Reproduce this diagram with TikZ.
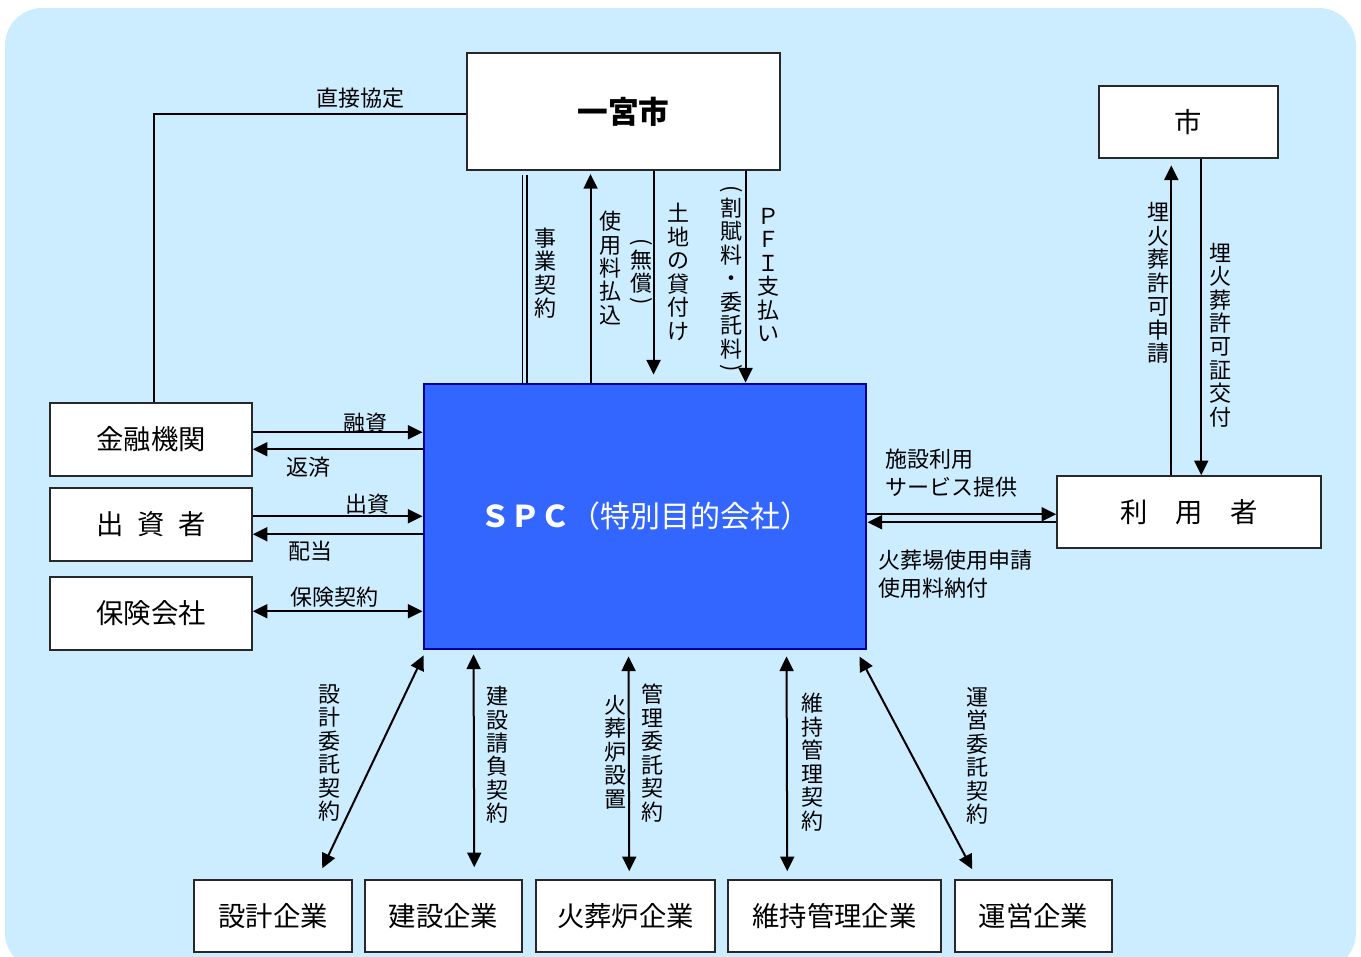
\documentclass[tikz,border=0pt]{standalone}
\usepackage{fontspec}
\setmainfont{Noto Sans CJK JP}
\usetikzlibrary{arrows.meta,calc}
\definecolor{bgblue}{RGB}{204,236,255}
\definecolor{spcfill}{RGB}{51,102,255}
\definecolor{spcline}{RGB}{0,0,153}
\definecolor{boxline}{RGB}{40,40,40}
\tikzset{
  box/.style={draw=boxline, fill=white, line width=1.1pt, inner sep=0pt,
    font=\fontsize{20.5}{24}\selectfont},
  sz/.style 2 args={minimum width=#1*0.75pt, minimum height=#2*0.75pt},
  conn/.style={line width=1.5pt},
  thinconn/.style={line width=1.1pt},
  tip/.tip={Triangle[length=11pt,width=10.5pt]},
  arr/.style={conn, -tip},
  darr/.style={conn, tip-tip},
  lbl/.style={inner sep=0pt, font=\fontsize{16.5}{17.6}\selectfont},
  vlbl/.style={lbl, align=center},
  vparen/.style={lbl, rotate=-90},
  lbltwo/.style={inner sep=0pt, align=left, anchor=west,
    font=\fontsize{16.5}{21.5}\selectfont},
}
\begin{document}
\begin{tikzpicture}[x=0.75pt,y=-0.75pt]
\useasboundingbox (0,0) rectangle (1361,957);
\fill[bgblue, rounded corners=28pt] (5,8) rectangle (1356,970);

% boxes
\node[box, sz={313}{117}, font=\bfseries\fontsize{23}{26}\selectfont] (ichi) at (623.5,111.5) {一宮市};
\node[box, sz={179}{72}] (shi) at (1188.5,122) {市};
\node[box, sz={202}{73}] (kin) at (151,439.5) {金融機関};
\node[box, sz={202}{73}] (shu) at (151,524.5) {出\hspace{0.5em}資\hspace{0.5em}者};
\node[box, sz={202}{73}] (hoken) at (151,613.5) {保険会社};
\node[draw=spcline, fill=spcfill, line width=2.2pt, inner sep=0pt, sz={442}{265},
  text=white, font=\fontsize{22.5}{26}\selectfont] (spc) at (645,516.5) {\textbf{ＳＰＣ}（特別目的会社）};
\node[box, sz={264}{72}] (riyo) at (1189,512) {利　用　者};
\node[box, sz={158}{72}] (d1) at (273,916) {設計企業};
\node[box, sz={157}{72}] (d2) at (443.5,916) {建設企業};
\node[box, sz={179}{72}] (d3) at (625.5,916) {火葬炉企業};
\node[box, sz={213}{72}] (d4) at (834.5,916) {維持管理企業};
\node[box, sz={157}{72}] (d5) at (1033.5,916) {運営企業};

% direct agreement
\draw[conn] ($(ichi.west)+(0,2.5)$) -| ($(kin.north)+(3,0)$);
\node[lbl] (lchoku) at (360,98) {直接協定};

% top connectors
\coordinate (t1) at ($(spc.north west)+(100,0)$);
\coordinate (t2) at ($(spc.north west)+(104.5,0)$);
\coordinate (t3) at ($(spc.north west)+(168,0)$);
\coordinate (t4) at ($(spc.north west)+(231,0)$);
\coordinate (t5) at ($(spc.north west)+(323,0)$);
\draw[thinconn, shorten >=3pt] (t1) -- (t1 |- ichi.south);
\draw[thinconn, shorten >=3pt] (t2) -- (t2 |- ichi.south);
\draw[arr, shorten >=2.5pt] (t3) -- (t3 |- ichi.south);
\draw[arr, shorten >=6pt] (t4 |- ichi.south) -- (t4);
\draw[arr] (t5 |- ichi.south) -- (t5);

\node[vlbl] (ljigyo) at (545,273) {事\\業\\契\\約};
\node[vlbl] (lshiyo) at (610,268) {使\\用\\料\\払\\込};
\node[vparen] (lmushoa) at (641,242) {(};
\node[vlbl] (lmusho) at (641,271.5) {無\\償};
\node[vparen] (lmushob) at (641,301) {)};
\node[vlbl] (ltochi) at (678,272) {土\\地\\の\\貸\\付\\け};
\node[vparen] (lkappua) at (731,189) {(};
\node[vlbl] (lkappu) at (731,278.5) {割\\賦\\料\\・\\委\\託\\料};
\node[vparen] (lkappub) at (731,368) {)};
\node[vlbl] (lpfi) at (768,275) {Ｐ\\Ｆ\\Ｉ\\支\\払\\い};

% city connectors
\coordinate (r1) at ($(riyo.north west)+(115,0)$);
\coordinate (r2) at ($(riyo.north west)+(145,0)$);
\draw[arr, shorten >=5pt] (r1) -- (r1 |- shi.south);
\draw[arr] (r2 |- shi.south) -- (r2);
\node[vlbl] (lshinsei) at (1158,283) {埋\\火\\葬\\許\\可\\申\\請};
\node[vlbl] (lkofu) at (1220,335) {埋\\火\\葬\\許\\可\\証\\交\\付};

% left connectors
\coordinate (a1) at ($(kin.north east)+(0,30)$);
\coordinate (a2) at ($(kin.north east)+(0,47)$);
\coordinate (a3) at ($(shu.north east)+(0,29)$);
\coordinate (a4) at ($(shu.north east)+(0,47)$);
\coordinate (a5) at ($(hoken.north east)+(0,35)$);
\draw[arr] (a1) -- (a1 -| spc.west);
\draw[arr] (a2 -| spc.west) -- (a2);
\draw[arr] (a3) -- (a3 -| spc.west);
\draw[arr] (a4 -| spc.west) -- (a4);
\draw[darr] (a5) -- (a5 -| spc.west);
\node[lbl] (lyushi) at (365,423) {融資};
\node[lbl] (lhensai) at (308,467) {返済};
\node[lbl] (lshusshi) at (367,504) {出資};
\node[lbl] (lhaito) at (310,551) {配当};
\node[lbl] (lhoken) at (334,597) {保険契約};

% right connectors
\coordinate (s1) at ($(riyo.north west)+(0,39)$);
\coordinate (s2) at ($(riyo.north west)+(0,47)$);
\draw[arr] (s1 -| spc.east) -- (s1);
\draw[arr] (s2) -- (s2 -| spc.east);
\node[lbltwo] (lservice) at (885,473) {施設利用\\サービス提供};
\node[lbltwo] (lkaso) at (878,574) {火葬場使用申請\\使用料納付};

% bottom connectors
\coordinate (b1a) at ($(spc.south west)+(1,5)$);
\coordinate (b1b) at ($(d1.north west)+(129,-11)$);
\coordinate (b2a) at ($(spc.south west)+(51,4)$);
\coordinate (b2b) at ($(d2.north west)+(110,-12)$);
\coordinate (b3a) at ($(spc.south west)+(206,6)$);
\coordinate (b3b) at ($(d3.north west)+(94,-8)$);
\coordinate (b4a) at ($(spc.south west)+(364,6)$);
\coordinate (b4b) at ($(d4.north west)+(60,-8)$);
\coordinate (b5a) at ($(spc.south east)+(-8,6)$);
\coordinate (b5b) at ($(d5.north west)+(18,-10)$);
\draw[darr] (b1a) -- (b1b);
\draw[darr] (b2a) -- (b2b);
\draw[darr] (b3a) -- (b3b);
\draw[darr] (b4a) -- (b4b);
\draw[darr] (b5a) -- (b5b);
\node[vlbl] (lsekkei) at (329,753) {設\\計\\委\\託\\契\\約};
\node[vlbl] (lkensetsu) at (497,755) {建\\設\\請\\負\\契\\約};
\node[vlbl] (lsechi) at (615,752) {火\\葬\\炉\\設\\置};
\node[vlbl] (lkanri) at (652,753) {管\\理\\委\\託\\契\\約};
\node[vlbl] (liji) at (812,762) {維\\持\\管\\理\\契\\約};
\node[vlbl] (lunei) at (977,756) {運\\営\\委\\託\\契\\約};
\end{tikzpicture}
\end{document}
